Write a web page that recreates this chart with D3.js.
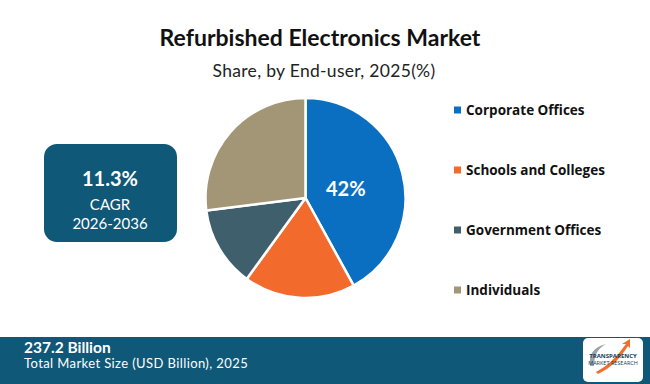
<!DOCTYPE html>
<html>
<head>
<meta charset="utf-8">
<script src="https://cdn.jsdelivr.net/npm/d3@7"></script>
<style>
  body { margin: 0; background: #fff; }
  svg { display: block; }
</style>
</head>
<body>
<div id="chart"></div>
<script>
// data
var categories = ["Corporate Offices", "Schools and Colleges", "Government Offices", "Individuals"];
var shares = [42, 18, 13, 27];
var colors = ["#0a6fc0", "#f26a2c", "#3f5f6d", "#a39676"];
var cagrText = ["11.3%", "CAGR", "2026-2036"];
var marketSize = "237.2 Billion";
var marketLabel = "Total Market Size (USD Billion), 2025";

var width = 650, height = 384;
var titleFont = "Lato, 'Open Sans', sans-serif";
var legendFont = "'Open Sans', 'DejaVu Sans', sans-serif";
var teal = "#0f5878";

var svg = d3.select("#chart").append("svg")
  .attr("width", width)
  .attr("height", height);

svg.append("rect").attr("width", width).attr("height", height).attr("fill", "#fff");

// titles
svg.append("text")
  .attr("x", 320).attr("y", 46)
  .attr("text-anchor", "middle")
  .style("font-family", titleFont).style("font-weight", 700).style("font-size", "23px")
  .attr("fill", "#111")
  .text("Refurbished Electronics Market");

svg.append("text")
  .attr("x", 324).attr("y", 77)
  .attr("text-anchor", "middle")
  .style("font-family", titleFont).style("font-size", "17.5px")
  .style("letter-spacing", "0.3px")
  .attr("fill", "#222")
  .text("Share, by End-user, 2025(%)");

// pie
var cx = 305.5, cy = 198, r = 100;
var pie = d3.pie().sort(null).value(function(d) { return d; });
var arc = d3.arc().innerRadius(0).outerRadius(r);
var arcs = pie(shares);

var g = svg.append("g").attr("transform", "translate(" + cx + "," + cy + ")");
g.selectAll("path")
  .data(arcs)
  .enter()
  .append("path")
    .attr("d", arc)
    .attr("fill", function(d, i) { return colors[i]; })
    .attr("stroke", "#fff")
    .attr("stroke-width", 2.5)
    .attr("stroke-linejoin", "round");

// label on the biggest slice
var labelArc = d3.arc().innerRadius(r * 0.55).outerRadius(r * 0.55);
var c0 = labelArc.centroid(arcs[0]);
g.append("text")
  .attr("x", c0[0] - 13).attr("y", c0[1] + 4)
  .attr("text-anchor", "middle")
  .attr("dominant-baseline", "central")
  .style("font-family", titleFont).style("font-weight", 700).style("font-size", "20px")
  .attr("fill", "#fff")
  .text(shares[0] + "%");

// legend
var legend = svg.append("g");
var ly = d3.scalePoint().domain(categories).range([110, 290]);
categories.forEach(function(c, i) {
  legend.append("rect")
    .attr("x", 454).attr("y", ly(c) - 3.5)
    .attr("width", 7).attr("height", 7)
    .attr("fill", colors[i]);
  legend.append("text")
    .attr("x", 466).attr("y", ly(c))
    .attr("dominant-baseline", "central")
    .style("font-family", legendFont).style("font-weight", 700).style("font-size", "13.5px")
    .attr("fill", "#111")
    .text(c);
});

// CAGR box
svg.append("rect")
  .attr("x", 44).attr("y", 144)
  .attr("width", 133).attr("height", 98)
  .attr("rx", 13)
  .attr("fill", teal);
svg.append("text")
  .attr("x", 110).attr("y", 186)
  .attr("text-anchor", "middle")
  .style("font-family", titleFont).style("font-weight", 700).style("font-size", "20px")
  .attr("fill", "#fff")
  .text(cagrText[0]);
svg.append("text")
  .attr("x", 110).attr("y", 210)
  .attr("text-anchor", "middle")
  .style("font-family", titleFont).style("font-size", "15px")
  .attr("fill", "#fff")
  .text(cagrText[1]);
svg.append("text")
  .attr("x", 110).attr("y", 229)
  .attr("text-anchor", "middle")
  .style("font-family", titleFont).style("font-size", "15px")
  .attr("fill", "#fff")
  .text(cagrText[2]);

// bottom band
svg.append("rect")
  .attr("x", 0).attr("y", 337)
  .attr("width", width).attr("height", height - 337)
  .attr("fill", teal);
svg.append("text")
  .attr("x", 24).attr("y", 353)
  .style("font-family", titleFont).style("font-weight", 700).style("font-size", "15.5px")
  .attr("fill", "#fff")
  .text(marketSize);
svg.append("text")
  .attr("x", 24).attr("y", 368)
  .style("font-family", titleFont).style("font-size", "13px")
  .style("letter-spacing", "0.4px")
  .attr("fill", "#fff")
  .text(marketLabel);

// logo
var logo = svg.append("g");
logo.append("rect")
  .attr("x", 583).attr("y", 338)
  .attr("width", 60).attr("height", 44)
  .attr("rx", 5)
  .attr("fill", "#fff");
logo.append("path")
  .attr("d", "M596,372 Q612,364 626,344 L622,344 L630,339 L630,348 L628,346 Q616,366 598,374 Z")
  .attr("fill", "#f0702a");
logo.append("path")
  .attr("d", "M590,366 Q588,348 606,344 Q594,350 594,366 Z")
  .attr("fill", "#9aa3ab");
logo.append("text")
  .attr("x", 613).attr("y", 358)
  .attr("text-anchor", "middle")
  .style("font-family", legendFont).style("font-weight", 700).style("font-size", "6px")
  .attr("fill", "#0f3e5c")
  .text("TRANSPARENCY");
logo.append("text")
  .attr("x", 613).attr("y", 365)
  .attr("text-anchor", "middle")
  .style("font-family", legendFont).style("font-size", "5.5px")
  .attr("fill", "#0f3e5c")
  .text("MARKET RESEARCH");
</script>
</body>
</html>
